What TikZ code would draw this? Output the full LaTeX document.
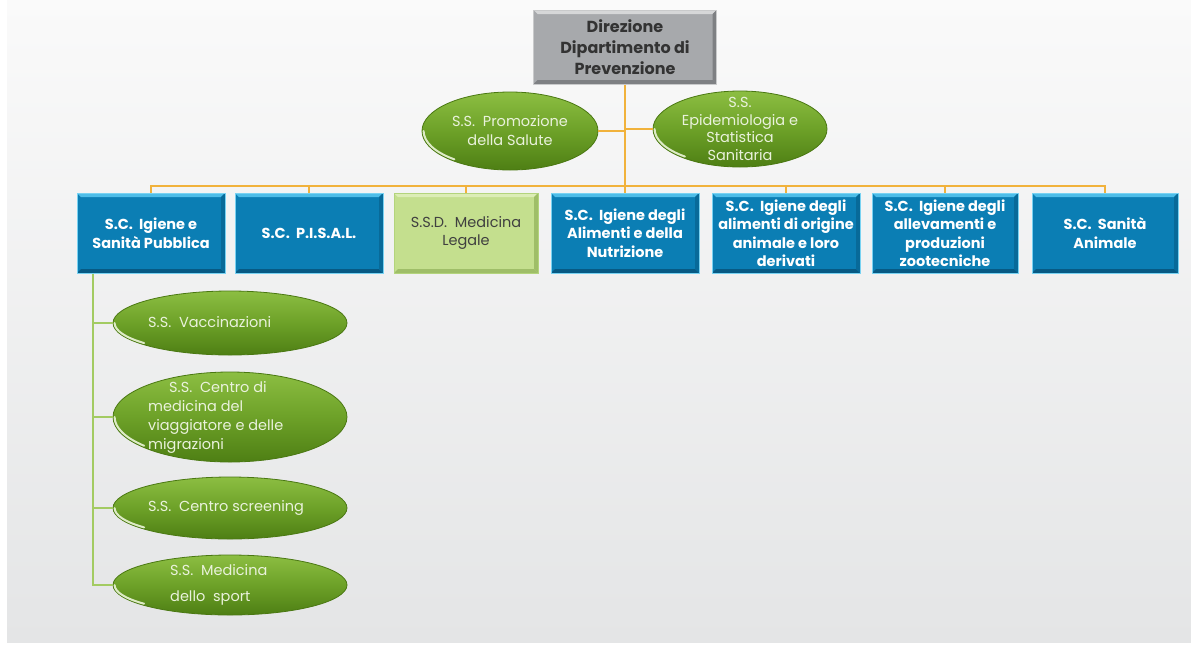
\documentclass[tikz,border=0pt]{standalone}
\usepackage{fontspec}
\setmainfont{Poppins}
\usetikzlibrary{shapes.geometric}

\definecolor{bgtop}{HTML}{FAFAFA}
\definecolor{bgbot}{HTML}{E4E5E6}
\definecolor{scblue}{HTML}{0B7EB4}
\definecolor{scbevtop}{HTML}{4DBDE8}
\definecolor{scbevbot}{HTML}{075A84}
\definecolor{scbevright}{HTML}{086A99}
\definecolor{scedge}{HTML}{78D2F2}
\definecolor{dirgray}{HTML}{A7A9AC}
\definecolor{dirtop}{HTML}{D6D7D8}
\definecolor{dirbot}{HTML}{7E8083}
\definecolor{diredge}{HTML}{C9CACB}
\definecolor{ssdgreen}{HTML}{C4DF8E}
\definecolor{ssdtop}{HTML}{DCEDB6}
\definecolor{ssdbot}{HTML}{9FBE68}
\definecolor{ssdedge}{HTML}{B3D47C}
\definecolor{ovaltop}{HTML}{8CBE42}
\definecolor{ovalmid}{HTML}{6DA128}
\definecolor{ovalbot}{HTML}{4E7F14}
\definecolor{ovaledge}{HTML}{4A7812}
\definecolor{ovaltext}{HTML}{EAF2DC}
\definecolor{trunk}{HTML}{F1B23C}
\definecolor{branch}{HTML}{A3CB62}

\tikzset{
  bevel/.style n args={3}{
    path picture={
      \fill[#1] (path picture bounding box.north west) -- (path picture bounding box.north east)
        -- ([xshift=-4pt,yshift=-4pt]path picture bounding box.north east)
        -- ([xshift=4pt,yshift=-4pt]path picture bounding box.north west) -- cycle;
      \fill[#2] (path picture bounding box.south west) -- (path picture bounding box.south east)
        -- ([xshift=-4pt,yshift=4pt]path picture bounding box.south east)
        -- ([xshift=4pt,yshift=4pt]path picture bounding box.south west) -- cycle;
      \fill[#3] (path picture bounding box.north east) -- (path picture bounding box.south east)
        -- ([xshift=-4pt,yshift=4pt]path picture bounding box.south east)
        -- ([xshift=-4pt,yshift=-4pt]path picture bounding box.north east) -- cycle;
    }},
  scbox/.style={rectangle, fill=scblue, draw=scedge, line width=1pt,
    bevel={scbevtop}{scbevbot}{scbevright},
    minimum width=148pt, minimum height=80pt, inner sep=0pt,
    text=white, align=center, font=\fontsize{14.5}{18.5}\selectfont\bfseries},
  ssdbox/.style={scbox, fill=ssdgreen, draw=ssdedge,
    bevel={ssdtop}{ssdbot}{ssdbot},
    text=black!75, font=\fontsize{14.5}{18.5}\selectfont},
  dirbox/.style={rectangle, fill=dirgray, draw=diredge, line width=1pt,
    bevel={dirtop}{dirbot}{dirbot},
    minimum width=183pt, minimum height=74pt, inner sep=0pt,
    text=black!80, align=center, font=\fontsize{16}{21}\selectfont\bfseries},
  oval/.style={ellipse, draw=ovaledge, line width=0.8pt,
    top color=ovaltop, bottom color=ovalbot, middle color=ovalmid, inner sep=0pt},
  ovaltxt/.style={text=ovaltext, inner sep=0pt, font=\fontsize{14.5}{19}\selectfont},
  shine/.style={draw=white!70!ovaltop, line width=2pt, line cap=round},
  trunkline/.style={draw=trunk, line width=2.4pt},
  branchline/.style={draw=branch, line width=2pt},
}

\begin{document}
\begin{tikzpicture}[x=1pt,y=-1pt]
  \useasboundingbox (0,0) rectangle (1191,646);
  % page background
  \fill[white] (0,0) rectangle (1191,646);
  \shade[top color=bgtop, bottom color=bgbot] (7,0) rectangle (1191,642);

  % head of the department
  \node[dirbox] (dir) at (625,47) {Direzione\\Dipartimento di\\Prevenzione};

  % staff units beside the trunk
  \node[oval, minimum width=176pt, minimum height=78pt] (prom) at (510,131) {};
  \node[oval, minimum width=174pt, minimum height=76pt] (epi) at (740,129) {};
  \node[ovaltxt, align=center] (promt) at (510,131) {S.S.\ \ Promozione\\della Salute};
  \node[ovaltxt, align=center, font=\fontsize{14.5}{17.5}\selectfont] (epit) at (740,129)
    {S.S.\\Epidemiologia e\\Statistica\\Sanitaria};

  % complex structures
  \node[scbox] (b1) at (151,233) {S.C.\ \ Igiene e\\Sanità Pubblica};
  \node[scbox] (b2) at (309,233) {S.C.\ \ P.I.S.A.L.};
  \node[ssdbox, minimum width=144pt] (b3) at (466,233) {S.S.D.\ \ Medicina\\Legale};
  \node[scbox] (b4) at (625,233) {S.C.\ \ Igiene degli\\Alimenti e della\\Nutrizione};
  \node[scbox] (b5) at (786,233) {S.C.\ \ Igiene degli\\alimenti di origine\\animale e loro\\derivati};
  \node[scbox, minimum width=146pt] (b6) at (945,233) {S.C.\ \ Igiene degli\\allevamenti e\\produzioni\\zootecniche};
  \node[scbox, minimum width=146pt] (b7) at (1105,233) {S.C.\ \ Sanità\\Animale};

  % simple structures under Igiene e Sanità Pubblica
  \node[oval, minimum width=234pt, minimum height=64pt] (vac) at (230,323) {};
  \node[oval, minimum width=234pt, minimum height=90pt] (cen) at (230,417) {};
  \node[oval, minimum width=234pt, minimum height=62pt] (scr) at (230,508) {};
  \node[oval, minimum width=234pt, minimum height=60pt] (spo) at (230,585) {};
  \node[ovaltxt, anchor=west] (vact) at (148,322) {S.S.\ \ Vaccinazioni};
  \node[ovaltxt, anchor=west, align=left] (cent) at (148,417)
    {\hspace{21pt}S.S.\ \ Centro di\\medicina del\\viaggiatore e delle\\migrazioni};
  \node[ovaltxt, anchor=west] (scrt) at (148,508) {S.S.\ \ Centro screening};
  \node[ovaltxt, anchor=west, align=left, font=\fontsize{14.5}{26}\selectfont] (spot) at (170,585)
    {S.S.\ \ Medicina\\dello\ \ sport};

  % light reflections on the lower left rim of the ovals
  \draw[shine] ([xshift=2pt]prom.west) arc[start angle=180, end angle=230, x radius=86pt, y radius=37pt];
  \draw[shine] ([xshift=2pt]epi.west) arc[start angle=180, end angle=230, x radius=85pt, y radius=36pt];
  \draw[shine] ([xshift=2pt]vac.west) arc[start angle=180, end angle=222, x radius=115pt, y radius=30pt];
  \draw[shine] ([xshift=2pt]cen.west) arc[start angle=180, end angle=222, x radius=115pt, y radius=43pt];
  \draw[shine] ([xshift=2pt]scr.west) arc[start angle=180, end angle=222, x radius=115pt, y radius=29pt];
  \draw[shine] ([xshift=2pt]spo.west) arc[start angle=180, end angle=222, x radius=115pt, y radius=28pt];

  % orange trunk and distribution bar
  \coordinate (bar) at (625,186);
  \draw[trunkline] (dir.south) -- (bar);
  \draw[trunkline] (prom.east) -- (prom.east -| bar);
  \draw[trunkline] (epi.west) -- (epi.west -| bar);
  \foreach \b in {b1,b2,b3,b4,b5,b6,b7} {
    \draw[trunkline] (bar) -| (\b.north);
  }

  % green branch from Igiene e Sanità Pubblica
  \coordinate (g0) at ([xshift=-58pt]b1.south);
  \draw[branchline] (g0) |- (spo.west);
  \foreach \o in {vac,cen,scr} {
    \draw[branchline] (g0 |- \o.west) -- (\o.west);
  }
\end{tikzpicture}
\end{document}
